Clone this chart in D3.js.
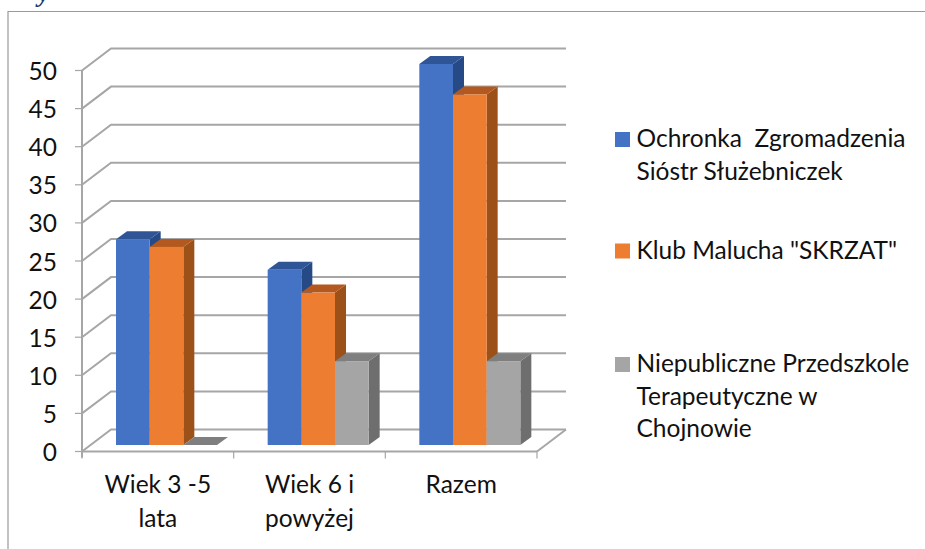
<!DOCTYPE html>
<html>
<head>
<meta charset="utf-8">
<script src="https://cdn.jsdelivr.net/npm/d3@7"></script>
<style>
  html, body { margin: 0; padding: 0; background: #fff; }
  svg { display: block; }
  text { font-family: Lato, "Open Sans", sans-serif; fill: #111; white-space: pre; }
</style>
</head>
<body>
<div class="chart"></div>
<script>
const width = 925;
const height = 549;

const categories = [["Wiek 3 -5", "lata"], ["Wiek 6 i", "powyżej"], ["Razem"]];
const seriesNames = [
  ["Ochronka  Zgromadzenia", "Sióstr Służebniczek"],
  ['Klub Malucha "SKRZAT"'],
  ["Niepubliczne Przedszkole", "Terapeutyczne w", "Chojnowie"]
];
const ochronka = [27, 23, 50];
const klub = [26, 20, 46];
const przedszkole = [0, 11, 11];
const yTicks = [0, 5, 10, 15, 20, 25, 30, 35, 40, 45, 50];

const front = ["#4472c4", "#ed7d31", "#a5a5a5"];
const topFace = ["#2f5597", "#b3591f", "#7f7f7f"];
const sideFace = ["#264a86", "#9c5119", "#6e6e6e"];
const gridColor = "#a6a6a6";

const svg = d3.select(".chart").append("svg")
  .attr("width", width)
  .attr("height", height);

// frame, only top and left are visible in the picture
svg.append("path")
  .attr("d", "M8,549V11.5H925")
  .attr("fill", "none")
  .attr("stroke", "#9a9a9a")
  .attr("stroke-width", 1.2);

// clipped bit of the heading above the chart
svg.append("text")
  .attr("x", 38)
  .attr("y", 1.5)
  .style("font-family", "'Liberation Serif'")
  .style("font-style", "italic")
  .style("font-weight", "bold")
  .style("font-size", "26px")
  .style("fill", "#1f3864")
  .text("y");

// CREATE SCALES
const xScale = d3.scaleBand().domain([0, 1, 2]).range([82, 537]);
const yScale = d3.scaleLinear().domain([0, 50]).range([451.5, 70.5]);
const barScale = d3.scaleBand().domain([0, 1, 2]).range([34, 135]);

// depth of the box (back wall) and of the bars
const depth = {x: 29, y: -22};
const barDepth = {x: 11, y: -8};
const barShift = {x: 0, y: -6.5};

const grid = svg.append("g")
  .attr("fill", "none")
  .attr("stroke", gridColor)
  .attr("stroke-width", 2);

yTicks.forEach(t => {
  const y = yScale(t);
  const y2 = y + depth.y;
  grid.append("path")
    .attr("d", d3.line()([[82, y], [82 + depth.x, y2], [537 + depth.x, y2]]));
  // tick marks on the axis
  grid.append("line")
    .attr("x1", 75).attr("x2", 82)
    .attr("y1", y).attr("y2", y)
    .attr("stroke-width", 1.2);
});

// floor front edge, right floor edge and vertical axis
grid.append("line")
  .attr("x1", 82).attr("x2", 537)
  .attr("y1", yScale(0)).attr("y2", yScale(0));
grid.append("line")
  .attr("x1", 537).attr("x2", 537 + depth.x)
  .attr("y1", yScale(0)).attr("y2", yScale(0) + depth.y);
grid.append("line")
  .attr("x1", 82).attr("x2", 82)
  .attr("y1", yScale(0) + 6).attr("y2", yScale(50));

[0, 1, 2, 3].forEach(i => {
  const x = i < 3 ? xScale(i) : xScale(2) + xScale.bandwidth();
  grid.append("line")
    .attr("x1", x).attr("x2", x)
    .attr("y1", yScale(0)).attr("y2", yScale(0) + 7)
    .attr("stroke-width", 1.2);
});

// BARS
const series = [ochronka, klub, przedszkole];
const barsLayer = svg.append("g");

categories.forEach((cat, c) => {
  // left to right: the next bar covers the side of the one before
  [0, 1, 2].forEach(s => {
    const v = series[s][c];
    const x0 = xScale(c) + barScale(s);
    const x1 = x0 + barScale.bandwidth();
    const yTop = yScale(v) + barShift.y;
    const yBot = yScale(0) + barShift.y;
    const dx = barDepth.x, dy = barDepth.y;

    barsLayer.append("path")
      .attr("fill", sideFace[s])
      .attr("d", d3.line()([[x1, yTop], [x1 + dx, yTop + dy], [x1 + dx, yBot + dy], [x1, yBot]]) + "Z");
    barsLayer.append("path")
      .attr("fill", topFace[s])
      .attr("d", d3.line()([[x0, yTop], [x0 + dx, yTop + dy], [x1 + dx, yTop + dy], [x1, yTop]]) + "Z");
    barsLayer.append("rect")
      .attr("x", x0)
      .attr("y", yTop)
      .attr("width", x1 - x0)
      .attr("height", yBot - yTop)
      .attr("fill", front[s]);
  });
});

// AXIS LABELS
const fontSize = 24.5;
const lineGap = 32.5;

svg.append("g").selectAll("text")
  .data(yTicks)
  .join("text")
  .attr("x", 57)
  .attr("y", d => yScale(d) + 9.5)
  .attr("text-anchor", "end")
  .style("font-size", fontSize + "px")
  .text(d => d);

categories.forEach((lines, c) => {
  svg.append("text")
    .attr("text-anchor", "middle")
    .style("font-size", fontSize + "px")
    .selectAll("tspan")
    .data(lines)
    .join("tspan")
    .attr("x", xScale(c) + xScale.bandwidth() / 2)
    .attr("y", (d, i) => 493 + i * 33.5)
    .text(d => d);
});

// LEGEND
const legendBase = [147, 258.5, 372];
const legend = svg.append("g");
seriesNames.forEach((lines, s) => {
  legend.append("rect")
    .attr("x", 615)
    .attr("y", legendBase[s] - 15)
    .attr("width", 15)
    .attr("height", 15)
    .attr("fill", front[s]);
  legend.append("text")
    .style("font-size", fontSize + "px")
    .selectAll("tspan")
    .data(lines)
    .join("tspan")
    .attr("x", 636.5)
    .attr("y", (d, i) => legendBase[s] + i * lineGap)
    .text(d => d);
});
</script>
</body>
</html>
